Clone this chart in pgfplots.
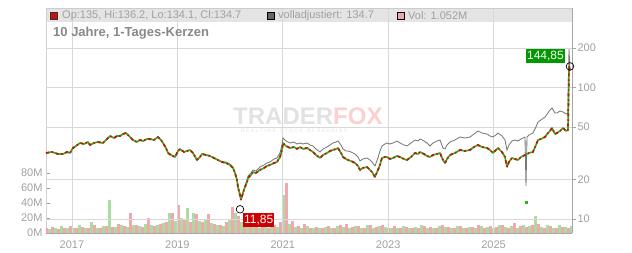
\documentclass[border=0pt]{standalone}
\usepackage{fontspec}
\setmainfont{Liberation Sans}
\usepackage{pgfplots}
\usepackage{pgfplotstable}
\pgfplotsset{compat=1.18}
\definecolor{cred}{RGB}{200,16,16}
\definecolor{cgreen}{RGB}{60,170,30}
\definecolor{cgray}{RGB}{120,120,120}
\definecolor{volpink}{RGB}{242,166,174}
\definecolor{volgreen}{RGB}{170,220,160}
\definecolor{gridc}{RGB}{216,216,216}
\definecolor{hdr}{RGB}{228,228,228}
\definecolor{ticklab}{RGB}{160,160,160}
\definecolor{titlec}{RGB}{136,136,136}
\definecolor{lblgreen}{RGB}{0,153,0}
\definecolor{lblred}{RGB}{204,0,0}
\definecolor{wmgray}{RGB}{226,226,226}
\definecolor{wmpink}{RGB}{250,208,208}
\newcommand\f[1]{\fontsize{#1}{#1}\selectfont}

\pgfplotstableread{
x c
2016.507 31.77
2016.621 32.33
2016.734 31.21
2016.829 31.21
2016.905 32.33
2016.962 31.77
2017.019 34.67
2017.076 35.91
2017.152 37.85
2017.228 37.19
2017.304 38.52
2017.342 36.54
2017.417 37.85
2017.493 38.52
2017.588 37.85
2017.645 39.89
2017.721 42.78
2017.797 41.31
2017.854 42.78
2017.911 42.78
2017.968 44.31
2018.025 45.09
2018.063 43.54
2018.101 42.04
2018.157 39.89
2018.233 38.52
2018.290 39.89
2018.347 39.20
2018.423 40.59
2018.480 40.59
2018.556 39.89
2018.632 42.04
2018.689 39.89
2018.727 37.85
2018.784 34.67
2018.822 31.77
2018.879 30.67
2018.954 29.62
2019.011 32.90
2019.049 34.07
2019.125 32.33
2019.182 32.90
2019.239 33.48
2019.296 31.77
2019.372 28.10
2019.429 29.62
2019.467 31.21
2019.543 30.67
2019.619 30.14
2019.695 29.10
2019.770 28.10
2019.846 27.13
2019.922 26.66
2019.998 25.74
2020.055 24.43
2020.093 22.38
2020.131 19.80
2020.150 17.51
2020.188 15.22
2020.207 13.94
2020.245 15.76
2020.283 17.51
2020.321 19.11
2020.340 20.50
2020.397 21.61
2020.434 22.77
2020.491 22.38
2020.567 23.59
2020.643 24.43
2020.700 25.30
2020.757 25.74
2020.833 26.66
2020.890 27.13
2020.947 29.62
2020.985 33.48
2021.004 37.85
2021.061 35.91
2021.137 34.67
2021.212 35.29
2021.269 34.07
2021.326 35.29
2021.383 34.07
2021.459 34.67
2021.516 33.48
2021.573 32.33
2021.630 30.67
2021.706 29.10
2021.763 30.67
2021.839 31.77
2021.896 32.90
2021.952 33.48
2022.009 34.07
2022.047 34.67
2022.104 31.77
2022.142 29.62
2022.199 28.60
2022.237 28.10
2022.294 27.61
2022.370 26.66
2022.427 25.30
2022.465 23.59
2022.522 24.43
2022.598 24.86
2022.655 23.59
2022.693 22.77
2022.749 20.86
2022.806 23.59
2022.844 25.74
2022.882 29.10
2022.939 29.62
2022.977 29.62
2023.034 28.60
2023.091 29.10
2023.167 30.14
2023.224 29.62
2023.300 28.60
2023.357 28.10
2023.433 29.62
2023.508 31.77
2023.565 31.21
2023.603 32.33
2023.679 31.21
2023.736 30.14
2023.793 29.62
2023.850 30.67
2023.926 31.21
2023.983 31.77
2024.040 28.10
2024.078 26.66
2024.116 28.60
2024.173 30.67
2024.267 31.77
2024.362 33.48
2024.457 32.90
2024.552 33.48
2024.628 35.29
2024.704 36.54
2024.780 35.29
2024.875 34.67
2024.932 33.48
2024.988 31.77
2025.045 33.48
2025.083 34.67
2025.159 32.33
2025.216 29.62
2025.254 24.86
2025.292 27.13
2025.349 29.10
2025.406 28.60
2025.463 28.10
2025.520 29.62
2025.596 30.67
2025.672 31.77
2025.747 32.33
2025.804 36.54
2025.842 39.89
2025.899 40.59
2025.975 42.04
2026.032 45.09
2026.070 46.70
2026.108 49.22
2026.165 44.31
2026.203 45.09
2026.260 46.70
2026.317 49.22
2026.374 46.70
2026.412 47.53
2026.431 144.85
2026.450 134.7
}\closedata

\pgfplotstableread{
x a
2016.507 31.77
2016.621 32.33
2016.734 31.21
2016.829 31.21
2016.905 32.33
2016.962 31.77
2017.019 34.67
2017.076 35.91
2017.152 37.85
2017.228 37.19
2017.304 38.52
2017.342 36.54
2017.417 37.85
2017.493 38.52
2017.588 37.85
2017.645 39.89
2017.721 42.78
2017.797 41.31
2017.854 42.78
2017.911 42.78
2017.968 44.31
2018.025 45.09
2018.063 43.54
2018.101 42.04
2018.157 39.89
2018.233 38.52
2018.290 39.89
2018.347 39.20
2018.423 40.59
2018.480 40.59
2018.556 39.89
2018.632 42.04
2018.689 39.89
2018.727 37.85
2018.784 34.67
2018.822 31.77
2018.879 30.67
2018.954 29.62
2019.011 32.90
2019.049 34.07
2019.125 32.33
2019.182 32.90
2019.239 33.48
2019.296 31.77
2019.372 28.10
2019.429 29.62
2019.467 31.21
2019.543 30.67
2019.619 30.14
2019.695 29.10
2019.770 28.10
2019.846 27.13
2019.922 27.13
2019.998 26.20
2020.055 24.86
2020.093 22.77
2020.131 20.15
2020.150 17.82
2020.188 15.49
2020.207 14.19
2020.245 16.04
2020.283 17.82
2020.321 19.80
2020.340 21.23
2020.397 22.38
2020.434 23.59
2020.491 23.18
2020.567 24.86
2020.643 25.74
2020.700 26.66
2020.757 27.13
2020.833 28.60
2020.890 29.10
2020.947 31.77
2020.985 36.54
2021.004 41.31
2021.061 39.20
2021.137 37.85
2021.212 38.52
2021.269 37.19
2021.326 37.85
2021.383 37.19
2021.459 37.85
2021.516 36.54
2021.573 35.91
2021.630 34.07
2021.706 32.33
2021.763 34.07
2021.839 35.29
2021.896 36.54
2021.952 37.85
2022.009 38.52
2022.047 39.20
2022.104 36.54
2022.142 34.07
2022.199 32.90
2022.237 32.90
2022.294 32.33
2022.370 31.21
2022.427 29.62
2022.465 27.61
2022.522 28.60
2022.598 29.10
2022.655 28.10
2022.693 27.13
2022.749 25.30
2022.806 29.10
2022.844 32.90
2022.882 35.91
2022.939 37.19
2022.977 37.85
2023.034 37.19
2023.091 37.85
2023.167 39.20
2023.224 37.85
2023.300 36.54
2023.357 35.91
2023.433 37.85
2023.508 39.89
2023.565 39.20
2023.603 40.59
2023.679 39.20
2023.736 37.85
2023.793 35.91
2023.850 37.85
2023.926 39.20
2023.983 39.89
2024.040 34.67
2024.078 34.07
2024.116 36.54
2024.173 38.52
2024.267 39.89
2024.362 42.04
2024.457 41.31
2024.552 42.04
2024.628 44.31
2024.704 46.70
2024.780 45.09
2024.875 44.31
2024.932 42.78
2024.988 42.04
2025.045 43.54
2025.083 45.09
2025.159 42.78
2025.216 39.89
2025.254 33.48
2025.292 36.54
2025.349 39.20
2025.406 39.89
2025.463 39.20
2025.520 40.59
2025.596 42.04
2025.615 17.82
2025.634 42.04
2025.672 43.54
2025.747 45.09
2025.804 50.09
2025.842 54.67
2025.899 56.62
2025.975 59.68
2026.032 64.01
2026.070 67.46
2026.108 69.87
2026.165 64.01
2026.203 64.01
2026.260 66.29
2026.317 65.14
2026.374 62.90
2026.412 64.01
2026.431 196
2026.450 134.7
}\adjdata

\pgfplotstableread{
x v
2016.520 6
2016.634 8
2016.748 5
2016.861 7
2016.975 9
2017.089 6
2017.203 8
2017.317 7
2017.430 10
2017.544 6
2017.658 9
2017.772 8
2017.886 12
2017.999 9
2018.113 27
2018.227 10
2018.341 8
2018.455 20
2018.568 9
2018.682 12
2018.796 14
2018.910 27
2019.024 37
2019.137 18
2019.251 15
2019.365 25
2019.479 14
2019.593 25
2019.706 12
2019.820 10
2019.934 14
2020.048 35
2020.162 22
2020.275 16
2020.389 10
2020.503 8
2020.617 9
2020.731 7
2020.844 10
2020.958 14
2021.072 67
2021.186 16
2021.300 9
2021.413 12
2021.527 7
2021.641 8
2021.755 6
2021.869 9
2021.982 7
2022.096 10
2022.210 12
2022.324 8
2022.438 9
2022.551 7
2022.665 11
2022.779 8
2022.893 10
2023.007 7
2023.120 9
2023.234 6
2023.348 8
2023.462 7
2023.576 6
2023.689 9
2023.803 8
2023.917 7
2024.031 10
2024.145 8
2024.258 6
2024.372 9
2024.486 7
2024.600 8
2024.714 10
2024.827 7
2024.941 9
2025.055 8
2025.169 11
2025.283 7
2025.396 13
2025.510 9
2025.624 8
2025.738 10
2025.852 12
2025.965 7
2026.079 9
2026.193 6
2026.307 8
2026.421 7
}\volpinkdata

\pgfplotstableread{
x v
2016.577 5
2016.691 6
2016.805 9
2016.918 6
2017.032 7
2017.146 10
2017.260 6
2017.374 14
2017.487 7
2017.601 9
2017.715 44
2017.829 8
2017.943 10
2018.056 8
2018.170 11
2018.284 9
2018.398 12
2018.512 10
2018.625 11
2018.739 13
2018.853 27
2018.967 16
2019.081 20
2019.194 33
2019.308 27
2019.422 16
2019.536 19
2019.650 13
2019.763 11
2019.877 9
2019.991 18
2020.105 26
2020.219 15
2020.332 12
2020.446 9
2020.560 7
2020.674 8
2020.788 9
2020.901 8
2021.015 51
2021.129 12
2021.243 8
2021.357 7
2021.470 9
2021.584 6
2021.698 7
2021.812 8
2021.926 6
2022.039 9
2022.153 8
2022.267 7
2022.381 9
2022.495 6
2022.608 10
2022.722 7
2022.836 9
2022.950 8
2023.064 6
2023.177 7
2023.291 9
2023.405 6
2023.519 8
2023.633 10
2023.746 7
2023.860 6
2023.974 9
2024.088 8
2024.202 7
2024.315 9
2024.429 6
2024.543 8
2024.657 7
2024.771 9
2024.884 8
2024.998 6
2025.112 10
2025.226 8
2025.340 9
2025.453 7
2025.567 10
2025.681 9
2025.795 23
2025.909 8
2026.022 11
2026.136 7
2026.250 10
2026.364 8
2026.478 9
}\volgreendata

\pgfplotsset{base/.style={scale only axis, width=526pt, height=225pt,
  at={(0pt,0pt)}, anchor=south west, xmin=2016.507, xmax=2026.488}}

\begin{document}
\begin{tikzpicture}
\useasboundingbox (-46pt,-20pt) rectangle (586pt,233pt);
\fill[hdr] (0pt,211pt) rectangle (526pt,225pt);
\node[anchor=base west,inner sep=0pt,text depth=0pt,font=\bfseries\f{24}] at (187pt,108pt)
  {\textcolor{wmgray}{TRADER}\textcolor{wmpink}{FOX}};
\node[anchor=west,inner sep=0pt,font=\f{5},text=wmgray] at (195pt,102pt)
  {R E A L T I M E \ \ S T O C K \ \ S C R E E N I N G};

\begin{axis}[base, ymin=0, ymax=300,
  axis x line=none, axis y line*=left,
  y axis line style={draw=black!18},
  ytick={0,20,40,60,80}, yticklabels={0M,20M,40M,60M,80M},
  tick align=inside, major tick length=4pt,
  ytick style={draw=black!40},
  yticklabel style={font=\f{11}, text=ticklab}]
\addplot[ycomb, no markers, draw=volpink, line width=2.5pt] table[x=x,y=v]{\volpinkdata};
\addplot[ycomb, no markers, draw=volgreen, line width=2.5pt] table[x=x,y=v]{\volgreendata};
\end{axis}

\begin{axis}[base, ymode=log, ymin=7.82, ymax=403,
  axis y line*=right, axis x line*=bottom,
  axis line style={draw=black!35},
  grid=major, grid style={draw=gridc, line width=0.6pt},
  xtick={2017,2019,2021,2023,2025},
  xticklabels={2017,2019,2021,2023,2025},
  ytick={10,20,50,100,200}, yticklabels={10,20,50,100,200},
  yminorticks=false,
  tick align=outside, major tick length=4pt,
  xtick style={draw=none}, ytick style={draw=black!35},
  xticklabel style={font=\f{11}, text=ticklab},
  yticklabel style={font=\f{11}, text=ticklab, xshift=-2pt}]
\addplot[cgray, line width=0.85pt, no markers] table[x=x,y=a]{\adjdata};
\addplot[cgreen, line width=1.7pt, no markers, line join=bevel] table[x=x,y=c]{\closedata};
\addplot[cred, line width=1.7pt, no markers, line join=bevel, dash pattern=on 3pt off 2.5pt on 1.5pt off 3pt] table[x=x,y=c]{\closedata};
\addplot[only marks, mark=square*, mark size=0.8pt, cgreen] coordinates {(2025.615,13.46)};
\addplot[only marks, mark=o, mark size=3.8pt, black, mark options={line width=0.7pt}] coordinates {(2020.188,11.85) (2026.450,144.85)};
\node[fill=lblgreen, text=white, font=\f{12}, inner xsep=1pt, inner ysep=2pt, anchor=north east] at (axis cs:2026.355,196.5) {144,85};
\node[fill=lblred, text=white, font=\f{12}, inner xsep=1pt, inner ysep=2pt, anchor=north west] at (axis cs:2020.245,11.1) {11,85};
\end{axis}

\draw[black!20] (0pt,225pt) -- (526pt,225pt);
\fill[cred] (4pt,214pt) rectangle (11pt,221pt);
\draw[black!80, line width=0.5pt] (4pt,214pt) rectangle (11pt,221pt);
\node[anchor=west,inner sep=0pt,font=\f{11},text=ticklab] at (16pt,217.5pt) {Op:135, Hi:136.2, Lo:134.1, Cl:134.7};
\fill[black!60] (221pt,214pt) rectangle (228pt,221pt);
\draw[black, line width=0.5pt] (221pt,214pt) rectangle (228pt,221pt);
\node[anchor=west,inner sep=0pt,font=\f{11},text=ticklab] at (232pt,217.5pt) {volladjustiert: 134.7};
\fill[volpink] (351pt,214pt) rectangle (358pt,221pt);
\draw[black, line width=0.5pt] (351pt,214pt) rectangle (358pt,221pt);
\node[anchor=west,inner sep=0pt,font=\f{11},text=ticklab] at (362pt,217.5pt) {Vol: 1.052M};
\node[anchor=west,inner sep=0pt,font=\bfseries\f{13},text=titlec] at (7pt,200pt) {10 Jahre, 1-Tages-Kerzen};
\end{tikzpicture}
\end{document}
